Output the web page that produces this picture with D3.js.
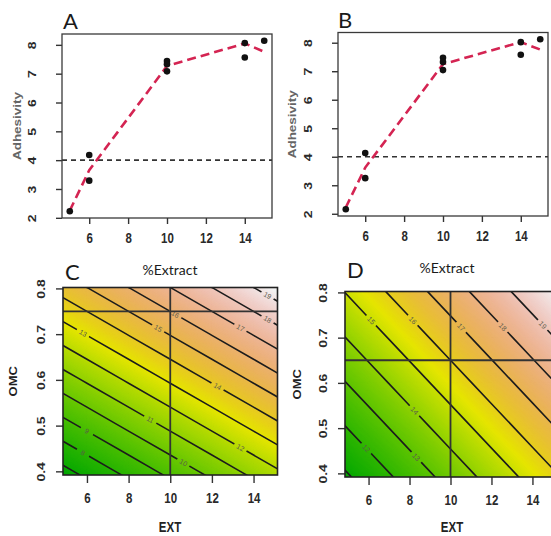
<!DOCTYPE html>
<html><head><meta charset="utf-8">
<script src="https://cdn.jsdelivr.net/npm/d3@7"></script>
<style>
html,body{margin:0;padding:0;background:#fff;}
svg{display:block;}
</style></head><body>
<svg id="chart" width="551" height="536"></svg>
<script>
// ---------------- data ----------------
const extract = [5, 6, 6, 10, 10, 10, 14, 14, 15];
const adhesivityA = [2.23, 4.18, 3.29, 7.44, 7.33, 7.08, 8.06, 7.56, 8.14];
const adhesivityB = [2.16, 4.13, 3.25, 7.47, 7.32, 7.04, 8.02, 7.58, 8.12];
const fitExtract = [5, 6, 10, 14, 15];
const fitA = [2.25, 3.65, 7.27, 8.05, 7.76];
const fitB = [2.22, 3.62, 7.25, 8.02, 7.76];
const thresholdAdhesivity = 4;
const extTicks = [6, 8, 10, 12, 14];
const adhTicks = [2, 3, 4, 5, 6, 7, 8];
const omcTicks = [0.4, 0.5, 0.6, 0.7, 0.8];

// response surfaces (rows: OMC from 0.9 down to 0.3, cols: EXT 4..16)
const gridEXT = [4, 6, 8, 10, 12, 14, 16];
const gridOMC = [0.9, 0.8, 0.7, 0.6, 0.5, 0.4, 0.3];
const surfaceC = [
  15.87, 16.87, 17.87, 18.87, 19.87, 20.87, 21.87,
  13.96, 14.96, 15.96, 16.96, 17.96, 18.96, 19.96,
  12.05, 13.05, 14.05, 15.05, 16.05, 17.05, 18.05,
  10.14, 11.14, 12.14, 13.14, 14.14, 15.14, 16.14,
   8.23,  9.23, 10.23, 11.23, 12.23, 13.23, 14.23,
   6.32,  7.32,  8.32,  9.32, 10.32, 11.32, 12.32,
   4.41,  5.41,  6.41,  7.41,  8.41,  9.41, 10.41];
const surfaceD = [
  15.61, 16.59, 17.57, 18.55, 19.53, 20.51, 21.49,
  14.59, 15.57, 16.55, 17.53, 18.51, 19.49, 20.47,
  13.57, 14.55, 15.53, 16.51, 17.49, 18.47, 19.45,
  12.55, 13.53, 14.51, 15.49, 16.47, 17.45, 18.43,
  11.53, 12.51, 13.49, 14.47, 15.45, 16.43, 17.41,
  10.51, 11.49, 12.47, 13.45, 14.43, 15.41, 16.39,
   9.49, 10.47, 11.45, 12.43, 13.41, 14.39, 15.37];
const zlimC = [6.6, 19.4];
const zlimD = [10.8, 20.1];
const levelsC = [7, 8, 9, 10, 11, 12, 13, 14, 15, 16, 17, 18, 19];
const levelsD = [11, 12, 13, 14, 15, 16, 17, 18, 19, 20];
// [level, EXT at which the inline label sits]
const labelsC = [[8, 5.81], [9, 6.0], [10, 10.63], [11, 9.04], [12, 13.37], [13, 5.81],
                 [14, 12.27], [15, 9.42], [16, 10.24], [17, 13.37], [18, 14.67], [19, 14.67]];
const labelsD = [[12, 5.89], [13, 8.33], [14, 8.24], [15, 6.13], [16, 8.16],
                 [17, 10.52], [18, 12.55], [19, 14.5]];
const refC = [10, 0.75];
const refD = [10, 0.65];
const extDomain = [4.85, 15.15];
const omcDomain = [0.392, 0.802];

// ---------------- helpers ----------------
const svg = d3.select("#chart");
const defs = svg.append("defs");
const SX = 0.82;
const RFONT = '"Liberation Sans", Arial, sans-serif';
const LFONT = 'Lato, "Open Sans", sans-serif';

function padExtent(v) {
  const [a, b] = d3.extent(v); const r = b - a;
  return [a - 0.04 * r, b + 0.04 * r];
}
function hsv2rgb(h, s, v) {
  const c = v * s, hp = h / 60, x = c * (1 - Math.abs(hp % 2 - 1));
  let r = 0, g = 0, b = 0;
  if (hp < 1) { r = c; g = x; } else if (hp < 2) { r = x; g = c; } else if (hp < 3) { g = c; b = x; }
  else if (hp < 4) { g = x; b = c; } else if (hp < 5) { r = x; b = c; } else { r = c; b = x; }
  const m = v - c;
  return d3.rgb((r + m) * 255, (g + m) * 255, (b + m) * 255).formatHex();
}
function terrain(t) {
  t = Math.max(0, Math.min(1, t));
  if (t < 0.5) { const u = t / 0.5; return hsv2rgb(120 - 60 * u, 1, 0.65 + 0.25 * u); }
  const u = (t - 0.5) / 0.5; return hsv2rgb(60 - 60 * u, 1 - u, 0.9 + 0.05 * u);
}
function rText(g, txt, x, y, rot, size, fill) {
  return g.append("text").text(txt)
    .attr("transform", `translate(${x},${y}) scale(${SX},1)` + (rot ? ` rotate(${rot})` : ""))
    .attr("text-anchor", "middle").attr("dy", "0.35em")
    .attr("font-family", RFONT).attr("font-weight", "bold")
    .attr("font-size", size).attr("fill", fill);
}
function lText(txt, x, y, size, anchor) {
  svg.append("text").text(txt).attr("x", x).attr("y", y)
    .attr("font-family", LFONT).attr("font-size", size)
    .attr("text-anchor", anchor).attr("fill", "#1a1a1a");
}
function styleXAxis(ax) {
  ax.select(".domain").remove();
  ax.selectAll(".tick line").attr("stroke", "#333").attr("stroke-width", 1.4);
  ax.selectAll(".tick text").attr("font-family", RFONT).attr("font-weight", "bold")
    .attr("font-size", 14).attr("fill", "#2a2a2a").attr("transform", `scale(${SX},1)`);
}
function styleYAxis(ax, off) {
  ax.select(".domain").remove();
  ax.selectAll(".tick line").attr("stroke", "#333").attr("stroke-width", 1.4);
  ax.selectAll(".tick text").attr("font-family", RFONT).attr("font-weight", "bold")
    .attr("font-size", 14).attr("fill", "#2a2a2a")
    .attr("x", 0).attr("dy", "0.35em").attr("text-anchor", "middle")
    .attr("transform", `translate(${-off},0) scale(${SX},1) rotate(-90)`);
}

// ---------------- scatter panels ----------------
function scatterPanel(box, ys, fit, yTitleX) {
  const x = d3.scaleLinear().domain(padExtent(extract)).range([box.l, box.r]);
  const y = d3.scaleLinear().domain(padExtent(ys)).range([box.b, box.t]);
  const g = svg.append("g");
  const xa = g.append("g").attr("transform", `translate(0,${box.b})`)
    .call(d3.axisBottom(x).tickValues(extTicks).tickSize(6).tickSizeOuter(0).tickPadding(9).tickFormat(d3.format("d")));
  styleXAxis(xa);
  const ya = g.append("g").attr("transform", `translate(${box.l},0)`)
    .call(d3.axisLeft(y).tickValues(adhTicks).tickSize(6).tickSizeOuter(0).tickFormat(d3.format("d")));
  styleYAxis(ya, 30);
  g.append("line").attr("x1", box.l).attr("x2", box.r)
    .attr("y1", y(thresholdAdhesivity)).attr("y2", y(thresholdAdhesivity))
    .attr("stroke", "#333").attr("stroke-width", 1.6).attr("stroke-dasharray", "5,4");
  const pts = fitExtract.map((e, i) => [e, fit[i]]);
  g.append("path").datum(pts)
    .attr("d", d3.line().x(d => x(d[0])).y(d => y(d[1])))
    .attr("fill", "none").attr("stroke", "#d42452").attr("stroke-width", 2.6)
    .attr("stroke-dasharray", "9,5");
  g.selectAll("circle").data(extract.map((e, i) => [e, ys[i]])).join("circle")
    .attr("cx", d => x(d[0])).attr("cy", d => y(d[1])).attr("r", 3.3).attr("fill", "#111");
  g.append("rect").attr("x", box.l).attr("y", box.t).attr("width", box.r - box.l)
    .attr("height", box.b - box.t).attr("fill", "none").attr("stroke", "#3a3a3a").attr("stroke-width", 1.3);
  rText(g, "Adhesivity", yTitleX, (box.t + box.b) / 2, -90, 13.5, "#666");
}

scatterPanel({ l: 62, r: 272, t: 34, b: 218 }, adhesivityA, fitA, 17.5);
scatterPanel({ l: 338, r: 548, t: 32.5, b: 216 }, adhesivityB, fitB, 292.5);

// ---------------- contour panels ----------------
function contourPanel(id, box, values, zlim, levels, labels, ref, omcTitleX, extTitleX) {
  const x = d3.scaleLinear().domain(extDomain).range([box.l, box.r]);
  const y = d3.scaleLinear().domain(omcDomain).range([box.b, box.t]);
  const nx = gridEXT.length, ny = gridOMC.length;
  const gx = d3.scaleLinear().domain([0.5, nx - 0.5]).range([x(gridEXT[0]), x(gridEXT[nx - 1])]);
  const gy = d3.scaleLinear().domain([0.5, ny - 0.5]).range([y(gridOMC[0]), y(gridOMC[ny - 1])]);
  const path = d3.geoPath(d3.geoTransform({ point(px, py) { this.stream.point(gx(px), gy(py)); } }));
  const clipId = id + "-clip";
  defs.append("clipPath").attr("id", clipId).append("rect")
    .attr("x", box.l).attr("y", box.t).attr("width", box.r - box.l).attr("height", box.b - box.t);
  const g = svg.append("g").attr("clip-path", `url(#${clipId})`);
  const color = z => terrain((z - zlim[0]) / (zlim[1] - zlim[0]));

  const nb = 180, step = (zlim[1] - zlim[0] + 0.4) / nb;
  const bandTh = d3.range(nb).map(i => zlim[0] - 0.2 + i * step);
  g.append("rect").attr("x", box.l).attr("y", box.t).attr("width", box.r - box.l)
    .attr("height", box.b - box.t).attr("fill", color(zlim[0]));
  const bands = d3.contours().size([nx, ny]).thresholds(bandTh)(values);
  g.append("g").selectAll("path").data(bands).join("path")
    .attr("d", path).attr("fill", d => color(d.value + step / 2))
    .attr("stroke", d => color(d.value + step / 2)).attr("stroke-width", 0.6);

  const iso = d3.contours().size([nx, ny]).thresholds(levels)(values);
  const maskId = id + "-mask";
  const mask = defs.append("mask").attr("id", maskId).attr("maskUnits", "userSpaceOnUse")
    .attr("x", 0).attr("y", 0).attr("width", 551).attr("height", 536);
  mask.append("rect").attr("x", 0).attr("y", 0).attr("width", 551).attr("height", 536).attr("fill", "#fff");

  const labelPts = [];
  labels.forEach(([lev, ext]) => {
    const c = iso.find(d => d.value === lev);
    if (!c) return;
    const px = x(ext);
    let found = null;
    c.coordinates.forEach(poly => poly.forEach(ring => {
      for (let i = 0; i < ring.length - 1 && !found; i++) {
        const a = ring[i], b = ring[i + 1];
        if (a[1] === b[1] && (a[1] <= 0 || a[1] >= ny)) continue;
        if (a[0] === b[0] && (a[0] <= 0 || a[0] >= nx)) continue;
        const ax = gx(a[0]), bx = gx(b[0]);
        if (ax !== bx && (ax - px) * (bx - px) <= 0) {
          const t = (px - ax) / (bx - ax), ay = gy(a[1]), by = gy(b[1]);
          let ang = Math.atan2(by - ay, bx - ax) * 180 / Math.PI;
          if (ang > 90) ang -= 180; if (ang < -90) ang += 180;
          found = { x: px, y: ay + t * (by - ay), angle: ang, lev };
        }
      }
    }));
    if (found) labelPts.push(found);
  });
  labelPts.forEach(p => {
    mask.append("rect").attr("x", -7).attr("y", -4).attr("width", 14).attr("height", 8)
      .attr("transform", `translate(${p.x},${p.y}) rotate(${p.angle})`).attr("fill", "#000");
  });
  g.append("g").attr("mask", `url(#${maskId})`).selectAll("path").data(iso).join("path")
    .attr("d", path).attr("fill", "none").attr("stroke", "#1c1c1c").attr("stroke-width", 1.6);
  g.append("g").selectAll("text").data(labelPts).join("text")
    .text(d => d.lev)
    .attr("transform", d => `translate(${d.x},${d.y}) rotate(${d.angle})`)
    .attr("text-anchor", "middle").attr("dy", "0.35em")
    .attr("font-family", RFONT).attr("font-size", 7).attr("fill", "#5a5a4a");

  g.append("line").attr("x1", x(ref[0])).attr("x2", x(ref[0])).attr("y1", box.t).attr("y2", box.b)
    .attr("stroke", "#333").attr("stroke-width", 1.8);
  g.append("line").attr("x1", box.l).attr("x2", box.r).attr("y1", y(ref[1])).attr("y2", y(ref[1]))
    .attr("stroke", "#333").attr("stroke-width", 1.8);

  const xa = svg.append("g").attr("transform", `translate(0,${box.b})`)
    .call(d3.axisBottom(x).tickValues(extTicks).tickSize(8).tickSizeOuter(0).tickPadding(10).tickFormat(d3.format("d")));
  styleXAxis(xa);
  const ya = svg.append("g").attr("transform", `translate(${box.l},0)`)
    .call(d3.axisLeft(y).tickValues(omcTicks).tickSize(7).tickSizeOuter(0).tickFormat(d3.format(".1f")));
  styleYAxis(ya, 22);
  svg.append("rect").attr("x", box.l).attr("y", box.t).attr("width", box.r - box.l)
    .attr("height", box.b - box.t).attr("fill", "none").attr("stroke", "#222").attr("stroke-width", 1.6);
  rText(svg, "OMC", omcTitleX, (box.t + box.b) / 2, -90, 13, "#222");
  rText(svg, "EXT", extTitleX, 527, 0, 14, "#222");
}

contourPanel("pc", { l: 63, r: 277.5, t: 287.5, b: 475 }, surfaceC, zlimC, levelsC, labelsC, refC, 13, 170);
contourPanel("pd", { l: 345, r: 556, t: 291.5, b: 477 }, surfaceD, zlimD, levelsD, labelsD, refD, 297, 452);

// ---------------- panel letters & added titles ----------------
lText("A", 63, 29, 22, "start");
lText("B", 338, 28, 22, "start");
lText("C", 65, 280, 22, "start");
lText("D", 347, 278, 22, "start");
lText("%Extract", 170, 275, 14, "middle");
lText("%Extract", 447, 273, 14, "middle");
</script>
</body></html>
